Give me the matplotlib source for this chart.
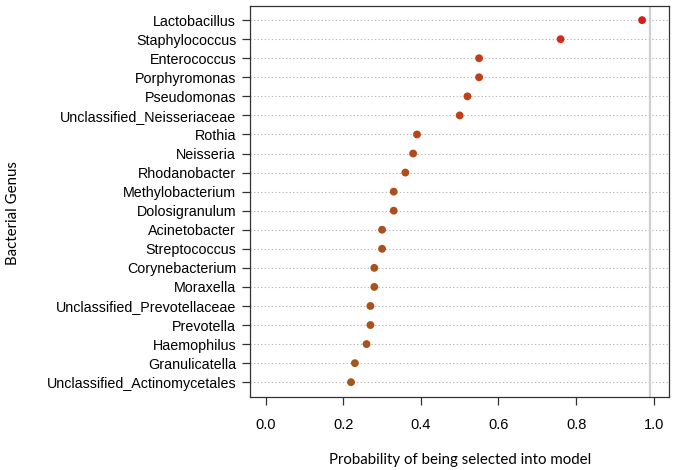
import numpy as np
import matplotlib
matplotlib.use("Agg")
import matplotlib.pyplot as plt
from matplotlib.colors import LinearSegmentedColormap, Normalize

# genus names, top to bottom as drawn
genera = ["Lactobacillus", "Staphylococcus", "Enterococcus", "Porphyromonas",
          "Pseudomonas", "Unclassified_Neisseriaceae", "Rothia", "Neisseria",
          "Rhodanobacter", "Methylobacterium", "Dolosigranulum", "Acinetobacter",
          "Streptococcus", "Corynebacterium", "Moraxella",
          "Unclassified_Prevotellaceae", "Prevotella", "Haemophilus",
          "Granulicatella", "Unclassified_Actinomycetales"]
# probability of selection
prob = [0.97, 0.76, 0.55, 0.55, 0.52, 0.50, 0.39, 0.38, 0.36, 0.33,
        0.33, 0.30, 0.30, 0.28, 0.28, 0.27, 0.27, 0.26, 0.23, 0.22]
ref_line = 0.99
xticks = [0.0, 0.2, 0.4, 0.6, 0.8, 1.0]

plt.rcParams['font.family'] = ['Liberation Sans', 'DejaVu Sans']

fig = plt.figure(figsize=(6.76, 4.70), dpi=100)
ax = fig.add_axes([0.370, 0.156, 0.620, 0.832])

n = len(genera)
ypos = np.arange(n, 0, -1)  # first genus on top

# dotted guide lines
for y in ypos:
    ax.axhline(y, color="#b8b8b8", lw=0.8, ls=(0, (1.2, 2)), zorder=1)
ax.axvline(ref_line, color="#cfcfcf", lw=1.6, zorder=1)

cmap = LinearSegmentedColormap.from_list("br", ["#a4561c", "#c63a18", "#d81c1f"])
norm = Normalize(vmin=min(prob), vmax=max(prob))
ax.scatter(prob, ypos, s=32, c=[cmap(norm(p)) for p in prob], zorder=3,
           linewidths=0)

ax.set_xlim(-0.04, 1.04)
ax.set_ylim(0.24, n + 0.76)
ax.set_yticks(ypos)
ax.set_yticklabels(genera, fontsize=10.3)
ax.set_xticks(xticks)
ax.set_xticklabels([f"{t:.1f}" for t in xticks], fontsize=10.5)
ax.tick_params(axis="x", length=6, width=0.9, color="#333333", pad=9)
ax.tick_params(axis="y", length=6, width=0.9, color="#333333", pad=4)
for sp in ax.spines.values():
    sp.set_linewidth(0.9)
    sp.set_color("#333333")

ax.set_xlabel("Probability of being selected into model", fontsize=10.8,
              family=["Lato", "DejaVu Sans"])
ax.xaxis.set_label_coords(0.5, -0.145)
ax.set_ylabel("Bacterial Genus", fontsize=10.8, family=["Lato", "DejaVu Sans"])
ax.yaxis.set_label_coords(-0.548, 0.47)

fig.savefig("out.png", dpi=100)
